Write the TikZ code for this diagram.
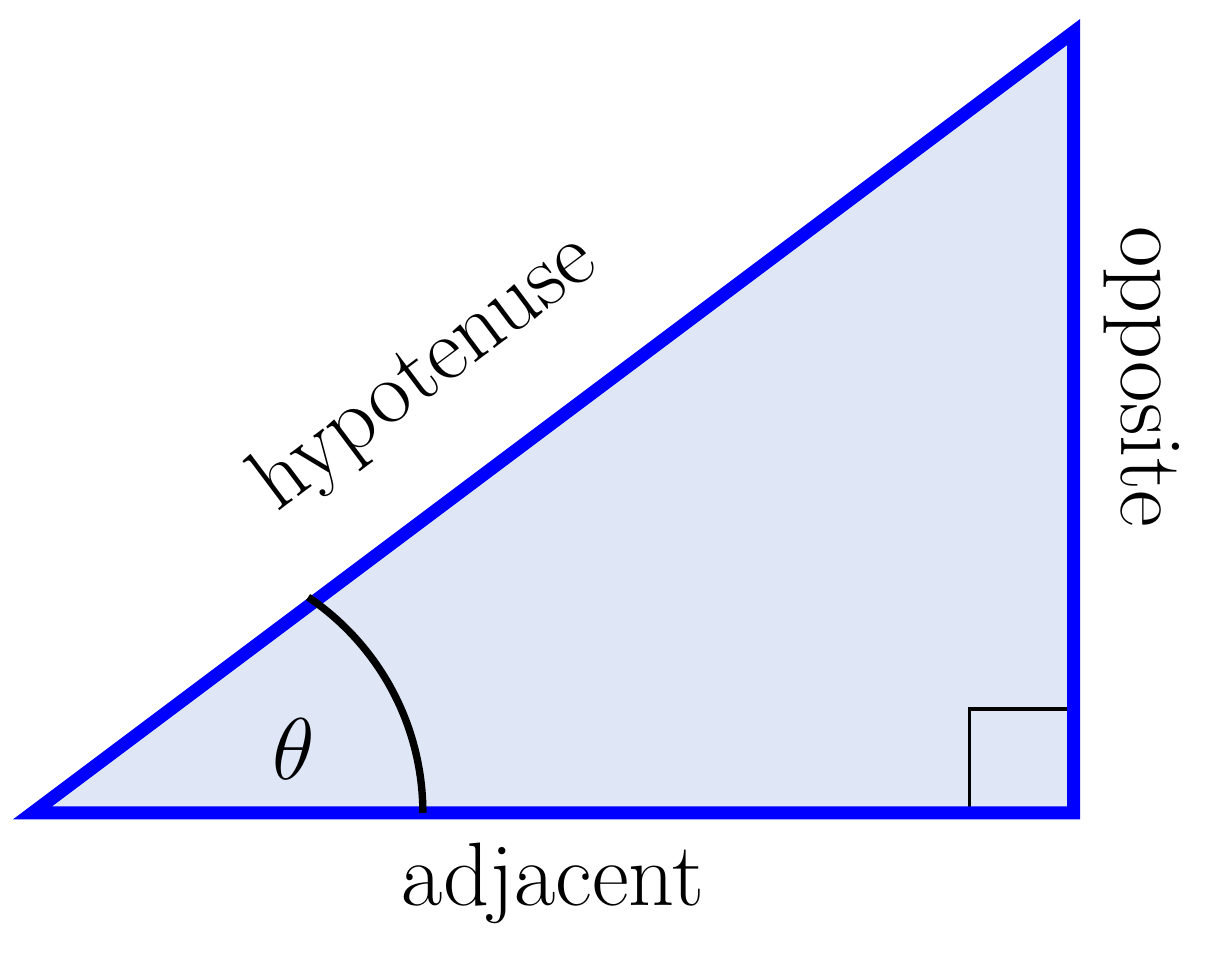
\documentclass[tikz,border=0pt]{standalone}
\definecolor{fillblue}{RGB}{223,230,245}
\begin{document}
\begin{tikzpicture}[x=2.6cm,y=2.6cm,
  side/.style={draw=blue,line width=3.7pt,line join=miter},
  lbl/.style={font=\fontsize{25.6}{30}\selectfont,inner sep=0pt}]
\useasboundingbox (-0.1245,-0.561) rectangle (4.520,3.123);
\coordinate (A) at (0,0);
\coordinate (B) at (4,0);
\coordinate (C) at (4,3);
\fill[fillblue] (A) -- (B) -- (C) -- cycle;
\draw[line width=1.1pt] (3.6,0) -- (3.6,0.4) -- (4,0.4);
\draw[side] (A) -- (B) -- (C) -- cycle;
\draw[line width=2.1pt] (1.5,0) arc[start angle=0,end angle=56,radius=1];
\node[lbl] (theta) at (1.005,0.244) {$\theta$};
\node[lbl,rotate=36.87] (hyp) at (1.511,1.689) {hypotenuse};
\node[lbl] (adj) at (2.0,-0.27) {adjacent};
\node[lbl,rotate=-90] (opp) at (4.262,1.677) {opposite};
\end{tikzpicture}
\end{document}
